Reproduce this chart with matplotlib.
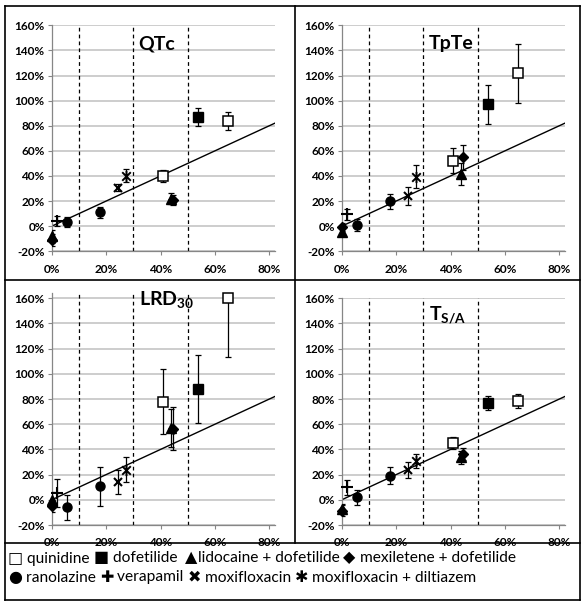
import matplotlib
matplotlib.use("Agg")
import matplotlib.pyplot as plt
from matplotlib.lines import Line2D
from matplotlib.path import Path
from matplotlib.ticker import FuncFormatter
from matplotlib.offsetbox import TextArea, HPacker, AnnotationBbox

plt.rcParams['font.family'] = ['Lato', 'DejaVu Sans']
plt.rcParams['mathtext.fontset'] = 'custom'
plt.rcParams['mathtext.rm'] = 'Lato'
plt.rcParams['mathtext.bf'] = 'Lato:bold'

# x: % block (same for every panel)
x_vals = [41, 64.7, 53.7, 0, 43.75, 0, 44.6, 5.6, 17.6, 2.1, 24.3, 27.2]
groups = ['quin', 'quin', 'dof', 'lido', 'lido', 'mex', 'mex',
          'ran', 'ran', 'vera', 'moxi', 'moxidil']

qtc_y = [40, 84, 87, -8, 22, -11, 21, 3.5, 11, 4.5, 30.7, 40.3]
qtc_err = [5, 7, 7, 5, 4.5, 5, 4, 4, 4.5, 4, 3, 5.5]
tpte_y = [52, 122, 97, -5, 41.6, -0.5, 55, 1, 19.8, 9.5, 24, 39.5]
tpte_err = [10, 23.5, 15.5, 3, 9, 3, 10, 5, 6, 4.5, 7.5, 9]
lrd_y = [78, 160, 88, 0, 57, -4.8, 56.3, -6.1, 10.6, 5.3, 14, 23.8]
lrd_err = [25.5, 47, 27, 6, 15, 5, 17, 10, 15.6, 11, 9.7, 10]
tsa_y = [45, 78.5, 77, -7, 33.6, -8.5, 36.5, 2.1, 19, 10, 23.8, 31]
tsa_err = [5, 5.3, 5.5, 4, 5, 4, 5, 6, 6.8, 5.8, 6.3, 5.7]

titles = ['QTc', 'TpTe', r'$\mathbf{LRD}_{\mathbf{30}}$', r'$\mathbf{T}_{\mathbf{S/A}}$']
title_y = [152, 152, 167, 155]
x_ticks = [0, 20, 40, 60, 80]
y_ticks = [-20, 0, 20, 40, 60, 80, 100, 120, 140, 160]
bands = [10, 30, 50]

NB = "\u00a0"
legend_row1 = [("\u25a1", NB + "quinidine" + NB), ("\u25a0", NB + "dofetilide" + NB + NB),
               ("\u25b2", "lidocaine + dofetilide" + NB), ("\u25c6", NB + "mexiletene + dofetilide")]
legend_row2 = [("\u25cf", NB + "ranolazine" + NB), ("\u271a", NB + "verapamil" + NB),
               ("\u2716", NB + "moxifloxacin" + NB), ("\u2731", NB + "moxifloxacin + diltiazem")]

# Excel-like star: X plus vertical bar
star = Path([(-1, -1), (1, 1), (-1, 1), (1, -1), (0, -1.3), (0, 1.3)],
            [Path.MOVETO, Path.LINETO, Path.MOVETO, Path.LINETO, Path.MOVETO, Path.LINETO])

styles = {
    'quin': dict(marker='s', mfc='white', mec='black', ms=6.5, mew=1.1),
    'dof': dict(marker='s', mfc='black', mec='black', ms=6.5),
    'lido': dict(marker='^', mfc='black', mec='black', ms=7),
    'mex': dict(marker='D', mfc='black', mec='black', ms=5.5),
    'ran': dict(marker='o', mfc='black', mec='black', ms=6.5),
    'vera': dict(marker='+', mfc='black', mec='black', ms=9, mew=1.5),
    'moxi': dict(marker='x', mfc='black', mec='black', ms=6, mew=1.5),
    'moxidil': dict(marker=star, mfc='black', mec='black', ms=8, mew=1.4),
}

W, H = 581, 602
fig = plt.figure(figsize=(W / 100, H / 100), dpi=100)

# panel positions in pixels: (x of 0%, y of 160%, y of -20%)
px_left = [51.7, 341.7, 51.7, 341.7]
py_top = [25.3, 25.3, 298.3, 298.3]
py_bot = [251.3, 251.3, 525.0, 525.0]
ytop = [160, 160, 164.5, 160]
ax_w = 275.3 - 51.7

panels = [(qtc_y, qtc_err), (tpte_y, tpte_err), (lrd_y, lrd_err), (tsa_y, tsa_err)]

for i, (yv, ev) in enumerate(panels):
    per = (py_bot[i] - py_top[i]) / 180.0
    top_px = py_top[i] - (ytop[i] - 160) * per
    ax = fig.add_axes([px_left[i] / W, 1 - py_bot[i] / H, ax_w / W, (py_bot[i] - top_px) / H])
    ax.set_xlim(0, 82.2)
    ax.set_ylim(-20, ytop[i])
    ax.set_yticks(y_ticks)
    ax.set_xticks(x_ticks)
    fmt = FuncFormatter(lambda v, p: f"{v:.0f}%")
    ax.xaxis.set_major_formatter(fmt)
    ax.yaxis.set_major_formatter(fmt)
    for lab in ax.get_xticklabels() + ax.get_yticklabels():
        lab.set_fontweight('bold')
        lab.set_fontsize(8.5)
    ax.tick_params(axis='both', length=3, color='#868686', pad=2)
    ax.tick_params(axis='x', pad=6)
    for s in ['top', 'right']:
        ax.spines[s].set_visible(False)
    for s in ['left', 'bottom']:
        ax.spines[s].set_color('#868686')
        ax.spines[s].set_linewidth(0.9)
    ax.yaxis.grid(True, color='#c0c0c0', lw=1.1)
    ax.set_axisbelow(True)
    for b in bands:
        ax.axvline(b, color='black', lw=0.9, ls=(0, (3, 2.5)))
    ax.plot([0, 82.2], [0, 82.2], color='black', lw=1, zorder=2)
    for xv, y, e, g in zip(x_vals, yv, ev, groups):
        ax.errorbar(xv, y, yerr=e, fmt='none', ecolor='black', elinewidth=0.9,
                    capsize=2.5, capthick=0.9, zorder=3)
        ax.plot([xv], [y], ls='none', zorder=4, clip_on=False, **styles[g])
    ax.text(32, title_y[i], titles[i], fontsize=14, fontweight='bold',
            va='top', ha='left', clip_on=False)

# panel borders
def hline(y, x0=5, x1=580):
    fig.add_artist(Line2D([x0 / W, x1 / W], [1 - y / H, 1 - y / H], color='black', lw=1.2))

def vline(x, y0=6, y1=600):
    fig.add_artist(Line2D([x / W, x / W], [1 - y0 / H, 1 - y1 / H], color='black', lw=1.2))

hline(6)
hline(280)
hline(543)
hline(600)
vline(5)
vline(580)
vline(295, 6, 543)

# legend rows: symbol glyphs a bit bigger than the labels
def legend_row(items, y_px):
    parts = []
    for sym, lab in items:
        parts.append(TextArea(sym, textprops=dict(fontsize=11.5, family='DejaVu Sans')))
        parts.append(TextArea(lab, textprops=dict(fontsize=11.2)))
    box = HPacker(children=parts, align='baseline', pad=0, sep=0)
    ab = AnnotationBbox(box, (8 / W, 1 - y_px / H), xycoords='figure fraction',
                        box_alignment=(0, 0.5), frameon=False, pad=0)
    fig.add_artist(ab)

legend_row(legend_row1, 558)
legend_row(legend_row2, 577)

fig.savefig('out.png', dpi=100, facecolor='white')
